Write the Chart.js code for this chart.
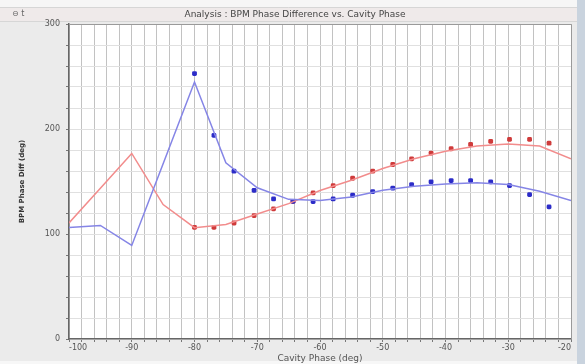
<!DOCTYPE html>
<html>
<head>
<meta charset="utf-8">
<script src="https://cdn.jsdelivr.net/npm/chart.js@4/dist/chart.umd.min.js"></script>
<style>
  html, body { margin: 0; padding: 0; background: #ebebeb; }
  #wrap { width: 585px; height: 364px; }
</style>
</head>
<body>
<div id="wrap"><canvas id="c" width="585" height="364"></canvas></div>
<script>
// Model curves (cavity phase in deg, BPM phase difference in deg)
const curvePhase = [-100, -95, -90, -85, -80, -75, -70, -65, -60, -55, -50, -45, -40, -35, -30, -25, -20];
const blueCurve  = [106.3, 108.2, 89.1, 167, 244.8, 167.8, 144, 133, 132, 135.3, 141.6, 145.5, 147.7, 148.7, 147.1, 140.7, 131.8];
const redCurve   = [110.5, 143.6, 176.7, 128, 106, 109, 119, 128.9, 141.4, 151.2, 162.4, 171.6, 178.9, 183.7, 185.6, 183.7, 171.6];

// Measured points
const measPhase = [-80, -76.9, -73.7, -70.5, -67.4, -64.3, -61.1, -57.9, -54.8, -51.6, -48.4, -45.4, -42.3, -39.1, -36, -32.8, -29.8, -26.6, -23.5];
const blueMeas  = [252.8, 193.9, 159.8, 141.6, 133.4, 131.1, 130.8, 133.4, 136.9, 140.4, 143.6, 147.1, 149.7, 150.9, 150.9, 149.7, 146.1, 137.5, 125.8];
const redMeas   = [106.3, 106.3, 110.5, 117.5, 123.9, 131.1, 139.1, 146.1, 153.1, 159.8, 166.2, 171.6, 177.0, 181.2, 185.3, 188.2, 190.1, 190.1, 186.5];

// Axis settings
const xMin = -100, xMax = -20, xStep = 2, xLabelEvery = 10;
const yMin = 0, yMax = 300, yStep = 20, yLabelEvery = 100;

const titleText = 'Analysis : BPM Phase Difference vs. Cavity Phase';
const xTitle = 'Cavity Phase (deg)';
const yTitle = 'BPM Phase Diff (deg)';

const pts = (xs, ys) => xs.map((x, i) => ({ x: x, y: ys[i] }));

// Window frame, title strip and plot border
const framePlugin = {
  id: 'frame',
  beforeDraw(chart) {
    const ctx = chart.ctx;
    ctx.save();
    ctx.fillStyle = '#ebebeb';
    ctx.fillRect(0, 0, 585, 364);
    ctx.fillStyle = '#f6f6f6';
    ctx.fillRect(0, 0, 585, 7);
    ctx.fillStyle = '#efeaea';
    ctx.fillRect(0, 7, 577, 15);
    ctx.strokeStyle = '#d6d6d6';
    ctx.lineWidth = 1;
    ctx.beginPath();
    ctx.moveTo(0, 7.5); ctx.lineTo(577, 7.5);
    ctx.moveTo(0, 21.5); ctx.lineTo(577, 21.5);
    ctx.stroke();
    ctx.fillStyle = '#c9d3de';
    ctx.fillRect(577, 0, 8, 364);
    ctx.fillStyle = '#f7f7f7';
    ctx.fillRect(0, 361, 577, 3);
    const a = chart.chartArea;
    ctx.fillStyle = '#ffffff';
    ctx.fillRect(a.left, a.top, a.right - a.left, a.bottom - a.top);
    // title
    ctx.fillStyle = '#444';
    ctx.font = '9px "DejaVu Sans", sans-serif';
    ctx.textAlign = 'center';
    ctx.textBaseline = 'middle';
    ctx.fillText(titleText, 295, 15);
    ctx.textAlign = 'left';
    ctx.fillStyle = '#666';
    ctx.font = '8px "DejaVu Sans", sans-serif';
    ctx.fillText('\u2296 t', 12, 14);
    ctx.restore();
  },
  afterDatasetsDraw(chart) {
    const ctx = chart.ctx, a = chart.chartArea;
    ctx.save();
    ctx.strokeStyle = '#9a9a9a';
    ctx.lineWidth = 1;
    ctx.beginPath();
    ctx.moveTo(a.left, a.top + 0.5); ctx.lineTo(a.right + 0.5, a.top + 0.5);
    ctx.lineTo(a.right + 0.5, a.bottom);
    ctx.stroke();
    ctx.restore();
  }
};

new Chart(document.getElementById('c'), {
  type: 'scatter',
  data: {
    datasets: [
      { label: 'blue model', data: pts(curvePhase, blueCurve), showLine: true, borderColor: '#8585e6', borderWidth: 1.5, pointRadius: 0, tension: 0 },
      { label: 'red model', data: pts(curvePhase, redCurve), showLine: true, borderColor: '#f28c8c', borderWidth: 1.5, pointRadius: 0, tension: 0 },
      { label: 'blue meas', data: pts(measPhase, blueMeas), showLine: false, pointStyle: 'rectRounded', pointRadius: 2.8, backgroundColor: '#2c2cc8', borderColor: '#2c2cc8', borderWidth: 0 },
      { label: 'red meas', data: pts(measPhase, redMeas), showLine: false, pointStyle: 'rectRounded', pointRadius: 2.8, backgroundColor: '#cf3b3b', borderColor: '#cf3b3b', borderWidth: 0 }
    ]
  },
  options: {
    responsive: false,
    animation: false,
    events: [],
    layout: { padding: { left: 0, right: 14, top: 24, bottom: 0 } },
    plugins: { legend: { display: false }, tooltip: { enabled: false }, title: { display: false } },
    scales: {
      x: {
        type: 'linear', min: xMin, max: xMax,
        afterFit(s) { s.height = 25; },
        ticks: {
          stepSize: xStep, autoSkip: false, maxRotation: 0, align: 'inner', padding: 1,
          color: '#555', font: { size: 8, family: '"DejaVu Sans", sans-serif' },
          callback: v => (Math.round(v) % xLabelEvery === 0 ? String(Math.round(v)) : '')
        },
        grid: { color: '#c2c2c2', lineWidth: 1, tickLength: 3, tickColor: '#777' },
        border: { color: '#666', width: 1.5 },
        title: { display: true, text: xTitle, color: '#555', font: { size: 9, family: '"DejaVu Sans", sans-serif' }, padding: { top: 0, bottom: 0 } }
      },
      y: {
        type: 'linear', min: yMin, max: yMax,
        afterFit(s) { s.width = 69; },
        ticks: {
          stepSize: yStep, autoSkip: false, padding: 6,
          color: '#555', font: { size: 8, family: '"DejaVu Sans", sans-serif' },
          callback: v => (Math.round(v) % yLabelEvery === 0 ? String(Math.round(v)) : '')
        },
        grid: { color: '#e0e0e0', lineWidth: 1, tickLength: 3, tickColor: '#777' },
        border: { color: '#666', width: 1.5 },
        title: { display: true, text: yTitle, color: '#333', font: { size: 7, weight: 'bold', family: '"DejaVu Sans", sans-serif' }, padding: { top: 18, bottom: 0 } }
      }
    }
  },
  plugins: [framePlugin]
});
</script>
</body>
</html>
